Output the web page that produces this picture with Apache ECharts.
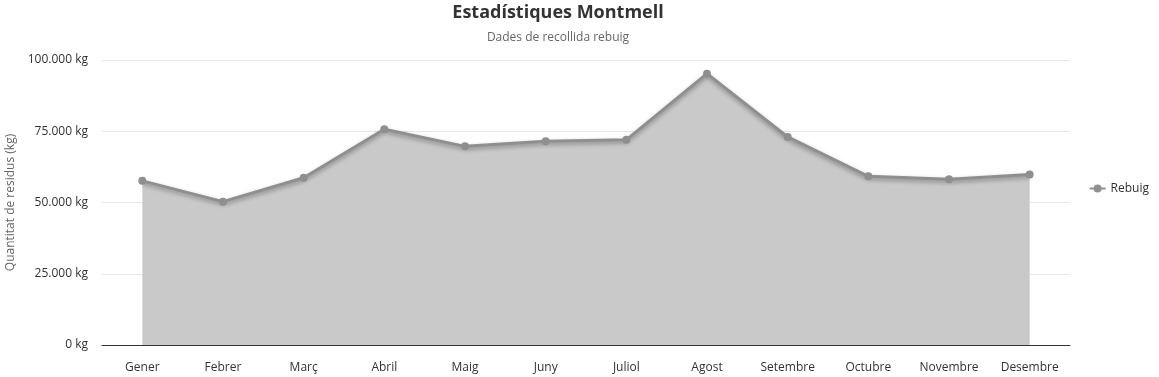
<!DOCTYPE html>
<html><head><meta charset="utf-8">
<script src="https://cdn.jsdelivr.net/npm/echarts@6/dist/echarts.min.js"></script>
<style>html,body{margin:0;padding:0;background:#fff}#c{width:1159px;height:377px}</style>
</head><body><div id="c"></div>
<script>
const categories = ['Gener','Febrer','Març','Abril','Maig','Juny','Juliol','Agost','Setembre','Octubre','Novembre','Desembre'];
const rebuig = [57600, 50300, 58700, 75700, 69700, 71500, 72000, 95200, 73000, 59200, 58200, 59800];
const yTicks = [0, 25000, 50000, 75000, 100000];
const FONT = '"Open Sans", "Noto Sans", sans-serif';
function fmt(v){ return String(v).replace(/\B(?=(\d{3})+(?!\d))/g, '.') + ' kg'; }
const chart = echarts.init(document.getElementById('c'), null, {renderer:'canvas'});
chart.setOption({
  animation:false,
  textStyle:{fontFamily:FONT},
  title:{
    text:'Estadístiques Montmell', subtext:'Dades de recollida rebuig', left:553, textAlign:'center', top:-1, itemGap:10,
    textStyle:{fontSize:18, fontWeight:'bold', color:'#333', fontFamily:FONT},
    subtextStyle:{fontSize:12, color:'#666', fontFamily:FONT}
  },
  legend:{
    orient:'vertical', right:5, top:'middle',
    data:['Rebuig'], itemWidth:16, itemHeight:10, itemGap:6,
    textStyle:{fontSize:12, color:'#333', fontFamily:FONT}
  },
  grid:{left:102, right:89, top:60, bottom:32, containLabel:false, outerBoundsMode:'none'},
  xAxis:{
    type:'category', data:categories, boundaryGap:true,
    axisLine:{lineStyle:{color:'#333', width:1}},
    axisTick:{show:false},
    axisLabel:{color:'#333', fontSize:12, margin:17, fontFamily:FONT}
  },
  yAxis:{
    type:'value', min:yTicks[0], max:yTicks[yTicks.length-1], interval:25000,
    name:'Quantitat de residus (kg)', nameLocation:'middle', nameGap:84, nameRotate:90,
    nameTextStyle:{color:'#666', fontSize:12, fontFamily:FONT},
    axisLine:{show:false}, axisTick:{show:false},
    axisLabel:{color:'#333', fontSize:12, margin:14, formatter:fmt, fontFamily:FONT},
    splitLine:{lineStyle:{color:'#e6e6e6'}}
  },
  series:[{
    name:'Rebuig', type:'line', data:rebuig,
    symbol:'circle', symbolSize:8,
    itemStyle:{color:'#8f8f8f'},
    lineStyle:{color:'#8f8f8f', width:3, shadowColor:'rgba(0,0,0,0.35)', shadowBlur:4, shadowOffsetY:2},
    areaStyle:{color:'#c9c9c9', opacity:1}
  }]
});
</script></body></html>
